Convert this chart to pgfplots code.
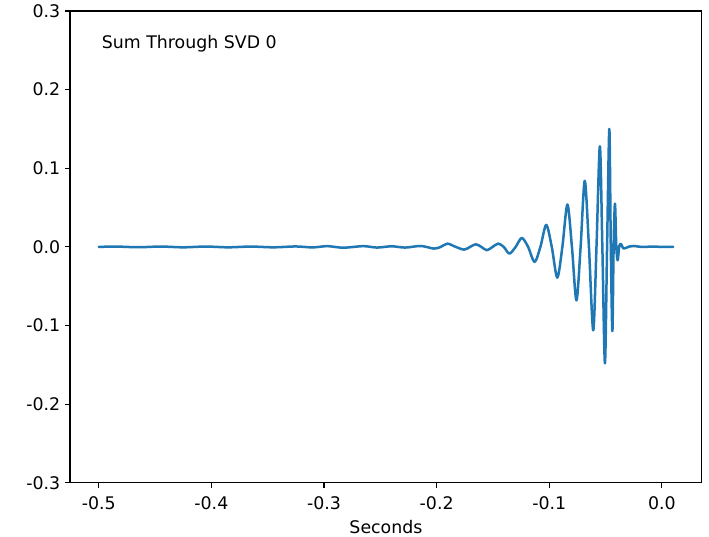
\documentclass[border=0pt]{standalone}
\usepackage{fontspec}
\setmainfont{DejaVu Sans}
\usepackage{pgfplots}
\pgfplotsset{compat=1.18}
\definecolor{mplblue}{HTML}{1F77B4}
\begin{document}
\begin{tikzpicture}
\begin{axis}[
  scale only axis,
  width=455pt, height=339.8pt,
  xmin=-0.5255, xmax=0.0355,
  ymin=-0.3, ymax=0.3,
  axis line style={line width=0.8pt},
  tick align=outside, tick pos=left,
  major tick length=3.5pt,
  every tick/.style={line width=0.8pt, black},
  xtick={-0.5,-0.4,-0.3,-0.2,-0.1,0.0},
  xticklabels={-0.5,-0.4,-0.3,-0.2,-0.1,0.0},
  ytick={-0.3,-0.2,-0.1,0.0,0.1,0.2,0.3},
  yticklabels={-0.3,-0.2,-0.1,0.0,0.1,0.2,0.3},
  tick label style={font=\fontsize{12.5}{14}\selectfont},
  xticklabel style={yshift=-2.5pt},
  xlabel={Seconds},
  xlabel style={font=\fontsize{12.5}{14}\selectfont, yshift=-1pt},
  clip=true,
]
\addplot[mplblue, line width=1.8pt, line join=round, line cap=round, smooth, tension=0.5] coordinates {
(-0.500,0.0000) (-0.485,0.0005) (-0.465,-0.0004) (-0.445,0.0005) (-0.425,-0.0005)
(-0.405,0.0005) (-0.385,-0.0005) (-0.365,0.0005) (-0.345,-0.0005) (-0.325,0.0006)
(-0.310,-0.0006) (-0.297,0.0010) (-0.283,-0.0010) (-0.265,0.0010) (-0.253,-0.0008)
(-0.240,0.0008) (-0.228,-0.0008) (-0.214,0.0012)
(-0.2024,-0.0021) (-0.1964,0.0) (-0.1904,0.0042) (-0.1830,0.0) (-0.1756,-0.0034)
(-0.1704,0.0) (-0.1652,0.0034) (-0.1603,0.0) (-0.1554,-0.0042) (-0.1504,0.0)
(-0.1453,0.0042) (-0.1404,0.0) (-0.1354,-0.0085) (-0.1299,0.0) (-0.1244,0.0114)
(-0.1188,0.0) (-0.1131,-0.0191) (-0.1079,0.0) (-0.1027,0.028) (-0.0978,0.0)
(-0.0929,-0.039) (-0.0884,0.0) (-0.0839,0.054) (-0.0799,0.0) (-0.0759,-0.068)
(-0.0722,0.0) (-0.0685,0.084) (-0.0648,0.0) (-0.0610,-0.106) (-0.0581,0.0)
(-0.0551,0.128) (-0.0529,0.0) (-0.0506,-0.148) (-0.0487,0.0) (-0.0467,0.150)
(-0.0454,0.0) (-0.0440,-0.107) (-0.0429,0.0) (-0.0417,0.055) (-0.0405,0.0)
(-0.0393,-0.017) (-0.0380,0.0) (-0.0366,0.004) (-0.0340,-0.002) (-0.0300,0.0)
(-0.0253,0.0012) (-0.0180,0.0) (-0.0100,0.0003) (0.0100,0.0)
};
\node[anchor=north west, inner sep=0pt, font=\fontsize{12.5}{14}\selectfont] at (rel axis cs:0.05,0.95) {Sum Through SVD 0};
\end{axis}
\pgfresetboundingbox
\path[use as bounding box] ([shift={(-50.4pt,-38.8pt)}]current axis.south west) rectangle ([shift={(5.1pt,7.9pt)}]current axis.north east);
\end{tikzpicture}
\end{document}
